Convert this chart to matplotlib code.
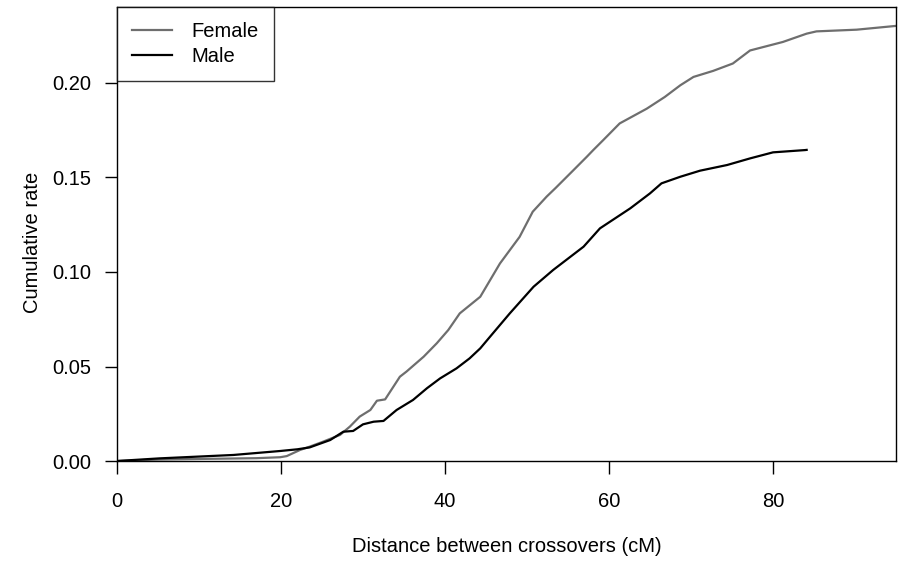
import matplotlib
matplotlib.use("Agg")
import matplotlib.pyplot as plt

plt.rcParams['font.family'] = ['Liberation Sans', 'DejaVu Sans']

# cumulative rate of crossovers vs. inter-crossover distance
female_cm = [0.0, 5.2, 12.0, 17.0, 19.9, 20.7, 22.3, 23.5, 25.0, 27.2, 28.4, 29.6, 30.9,
             31.7, 32.7, 34.5, 35.3, 37.4, 39.0, 40.4, 41.8, 44.3, 46.7, 49.1, 50.7,
             52.4, 53.5, 55.6, 57.3, 58.1, 59.3, 61.3, 64.6, 66.8, 68.7, 70.3, 72.7,
             75.1, 77.2, 81.2, 84.1, 85.3, 90.2, 95.0]
female_rate = [0.0, 0.0008, 0.0012, 0.0015, 0.0020, 0.0026, 0.0058, 0.0076, 0.0100, 0.0138,
               0.0182, 0.0235, 0.0270, 0.0319, 0.0326, 0.0446, 0.0473, 0.0552, 0.0623,
               0.0693, 0.0781, 0.0869, 0.1045, 0.1186, 0.1319, 0.1399, 0.1445, 0.1536,
               0.1610, 0.1646, 0.1698, 0.1786, 0.1864, 0.1926, 0.1988, 0.2032, 0.2064,
               0.2103, 0.2172, 0.2217, 0.2261, 0.2273, 0.2282, 0.2302]

male_cm = [0.0, 5.2, 14.2, 19.9, 22.0, 23.5, 26.0, 27.6, 28.8, 30.0, 31.3, 32.5, 34.1,
           36.1, 37.8, 39.4, 41.4, 43.0, 44.3, 45.5, 47.9, 50.8, 53.2, 56.9, 58.9,
           62.6, 65.0, 66.4, 68.7, 71.1, 74.4, 77.2, 80.0, 83.9, 84.1]
male_rate = [0.0, 0.0014, 0.0032, 0.0053, 0.0062, 0.0072, 0.0111, 0.0155, 0.0159, 0.0194,
             0.0208, 0.0212, 0.0270, 0.0323, 0.0385, 0.0437, 0.0490, 0.0543, 0.0596,
             0.0658, 0.0781, 0.0922, 0.1011, 0.1134, 0.1231, 0.1337, 0.1416, 0.1469,
             0.1504, 0.1536, 0.1566, 0.1601, 0.1633, 0.1645, 0.1646]

fs = 14.5

fig = plt.figure(figsize=(9.06, 5.64), dpi=100)
ax = fig.add_axes([0.1291, 0.1826, 0.8599, 0.8050])

ax.plot(female_cm, female_rate, color='#6e6e6e', lw=1.6, label='Female')
ax.plot(male_cm, male_rate, color='black', lw=1.6, label='Male')

ax.set_xlim(0, 95)
ax.set_ylim(0, 0.2402)
ax.set_xticks([0, 20, 40, 60, 80])
ax.set_yticks([0.0, 0.05, 0.10, 0.15, 0.20])
ax.set_yticklabels(['0.00', '0.05', '0.10', '0.15', '0.20'])
ax.tick_params(direction='out', length=9, width=1, labelsize=fs)
ax.tick_params(axis='x', pad=13.3)
ax.tick_params(axis='y', pad=9.6)
for s in ax.spines.values():
    s.set_linewidth(1)

ax.set_xlabel('Distance between crossovers (cM)', fontsize=fs)
ax.set_ylabel('Cumulative rate', fontsize=fs)
ax.xaxis.set_label_coords(0.5, -0.167)
ax.yaxis.set_label_coords(-0.0963, 0.482)

leg = ax.legend(loc='upper left', bbox_to_anchor=(0, 1), borderaxespad=0,
                fancybox=False, edgecolor='black', fontsize=fs,
                handlelength=2.0, handletextpad=0.95, borderpad=0.75,
                labelspacing=0.3)
leg.get_frame().set_linewidth(1)

fig.savefig('out.png', dpi=100)
